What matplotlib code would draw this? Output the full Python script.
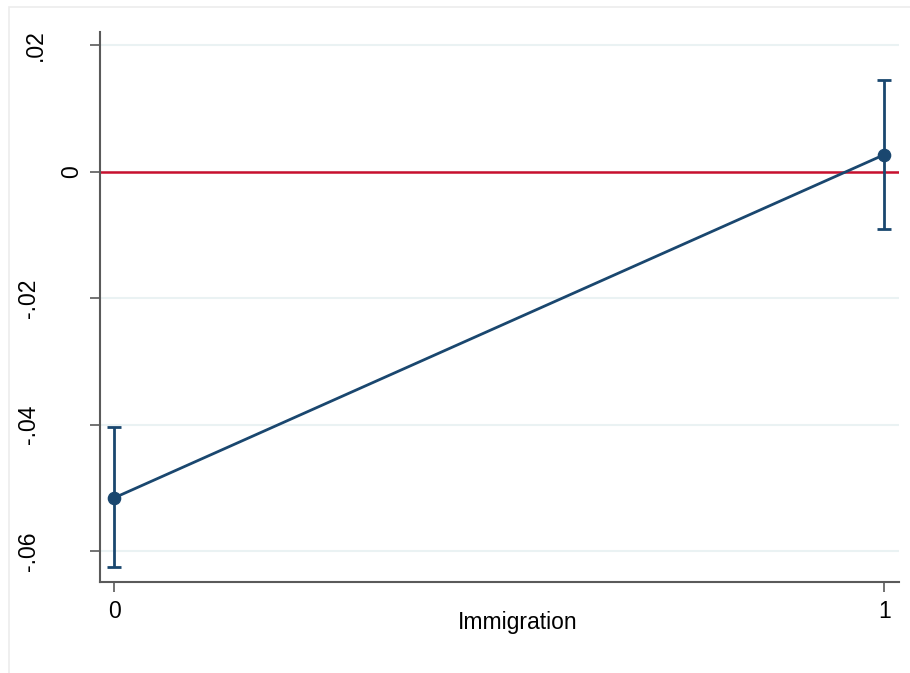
import matplotlib
matplotlib.use("Agg")
import matplotlib.pyplot as plt
from matplotlib.patches import Rectangle

plt.rcParams["font.family"] = ["Liberation Sans", "DejaVu Sans"]

# Predictive margins by immigration status
levels = [0, 1]
margin = [-0.0516, 0.0027]
ci_low = [-0.0626, -0.0091]
ci_high = [-0.0404, 0.0145]

y_ticks = [0.02, 0.0, -0.02, -0.04, -0.06]
y_tick_labels = [".02", "0", "-.02", "-.04", "-.06"]
x_tick_labels = ["0", "1"]
x_title = "Immigration"

navy = "#1a476f"
ref_red = "#c8102e"
grid_col = "#eaf2f3"
axis_col = "#5a5a5a"
fs = 16.5

W, H = 910, 673
fig = plt.figure(figsize=(W / 100, H / 100), dpi=100)
fig.patch.set_facecolor("white")

# faint outer frame
fig.patches.append(Rectangle((9 / W, -0.05), 1.2, 1 - 7 / H + 0.05,
                             transform=fig.transFigure, fill=False,
                             edgecolor="#ececec", linewidth=1.2, zorder=0))

ax = fig.add_axes([100 / W, 1 - 582 / H, 799 / W, 550 / H])
ax.set_facecolor("none")

ax.set_xlim(-0.0182, 1.019)
ax.set_ylim(-0.0649, 0.0221)

for t in y_ticks:
    ax.axhline(t, color=grid_col, linewidth=1.5, zorder=1)
ax.axhline(0, color=ref_red, linewidth=1.8, zorder=2)

err_lo = [m - l for m, l in zip(margin, ci_low)]
err_hi = [h - m for m, h in zip(margin, ci_high)]
ax.errorbar(levels, margin, yerr=[err_lo, err_hi], fmt="none",
            ecolor=navy, elinewidth=2, capsize=5.2, capthick=2, zorder=3)
ax.plot(levels, margin, color=navy, linewidth=2, marker="o",
        markersize=8.8, markerfacecolor=navy, markeredgecolor=navy, zorder=4)

for side in ("top", "right"):
    ax.spines[side].set_visible(False)
for side in ("left", "bottom"):
    ax.spines[side].set_color(axis_col)
    ax.spines[side].set_linewidth(1.5)

ax.set_xticks(levels)
ax.set_xticklabels(x_tick_labels, fontsize=fs)
ax.tick_params(axis="x", length=7, width=1.2, color=axis_col, pad=6)

ax.set_yticks(y_ticks)
ax.set_yticklabels([])
ax.tick_params(axis="y", length=7, width=1.2, color=axis_col)

# vertical tick labels, horizontal centre in pixels
label_x = {".02": 35, "0": 72}
ytrans = ax.get_yaxis_transform()
for val, lab in zip(y_ticks, y_tick_labels):
    xc = label_x.get(lab, 29)
    ax.text((xc - 100) / 799, val, lab, transform=ytrans, rotation=90,
            ha="center", va="center", fontsize=fs, color="black",
            clip_on=False)

ax.set_xlabel(x_title, fontsize=fs)
ax.xaxis.set_label_coords((518 - 100) / 799, -0.052)
ax.xaxis.label.set_va("top")

fig.savefig("out.png", dpi=100, facecolor="white")
